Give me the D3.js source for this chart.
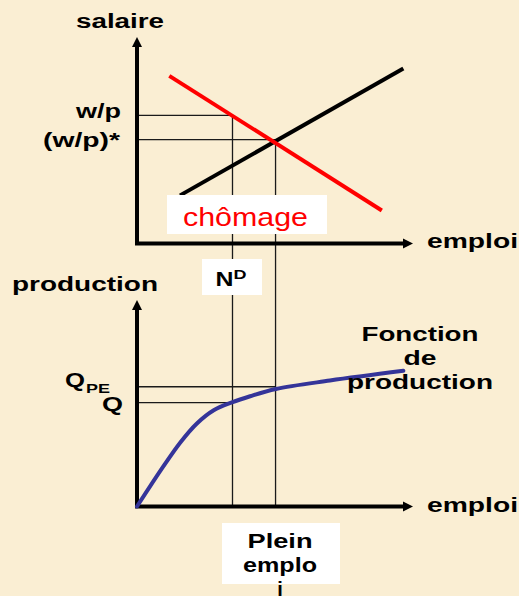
<!DOCTYPE html>
<html>
<head>
<meta charset="utf-8">
<script src="https://cdn.jsdelivr.net/npm/d3@7"></script>
<style>
  html, body { margin: 0; padding: 0; background: #faeed3; }
  svg { display: block; }
</style>
</head>
<body>
<script>
// labour market (top panel)
const supplyX = [15.6, 96.5];
const supplyY = [23.3, 84.8];
const demandX = [11.7, 88.7];
const demandY = [81.2, 16.0];
const wageLabels = ['w/p', '(w/p)*'];
const wageLevels = [62, 50.3];

// employment marks shared by both panels
const empLabels = ['ND', 'Plein emploi'];
const empLevels = [34.6, 50.2];

// production function (bottom panel)
const prodX = [0, 9.6, 15.7, 21.7, 27.8, 34.4, 41.0, 50.3, 69.9, 96.5];
const prodY = [0, 19.5, 31.0, 40.2, 46.6, 50.4, 53.4, 56.9, 61.0, 65.7];
const outputLabels = ['QPE', 'Q'];
const outputLevels = [58, 50.3];

const W = 519, H = 596;
const font = '"Liberation Sans", Arial, sans-serif';

const svg = d3.select('body').append('svg')
  .attr('width', W).attr('height', H);

svg.append('rect').attr('width', W).attr('height', H).attr('fill', '#faeed3');

// scales
const x = d3.scaleLinear().domain([0, 100]).range([137, 413]);
const yTop = d3.scaleLinear().domain([0, 100]).range([243.5, 37]);
const yBot = d3.scaleLinear().domain([0, 100]).range([506.5, 300]);

const line = (xs, ys, yScale) => d3.line()
  .x((d, i) => x(xs[i]))
  .y((d, i) => yScale(ys[i]))(xs);

// thin guide lines
const guides = svg.append('g').attr('stroke', '#1a1a1a').attr('stroke-width', 1.3);

wageLevels.forEach((w, i) => {
  guides.append('line')
    .attr('x1', x(0)).attr('x2', x(empLevels[i]))
    .attr('y1', yTop(w)).attr('y2', yTop(w));
  guides.append('line')
    .attr('x1', x(empLevels[i])).attr('x2', x(empLevels[i]))
    .attr('y1', yTop(w)).attr('y2', yBot(0));
});

outputLevels.forEach((q, i) => {
  const e = empLevels[outputLevels.length - 1 - i];
  guides.append('line')
    .attr('x1', x(0)).attr('x2', x(e))
    .attr('y1', yBot(q)).attr('y2', yBot(q));
});

// axes with arrowheads
const drawAxes = (yScale) => {
  const g = svg.append('g');
  const x0 = x(0), y0 = yScale(0);
  const top = yScale.range()[1], right = x.range()[1];
  g.append('path')
    .attr('d', `M${x0},${y0}V${top + 8}M${x0 - 2},${y0}H${right - 8}`)
    .attr('stroke', '#000').attr('stroke-width', 4).attr('fill', 'none');
  g.append('path')
    .attr('d', `M${x0},${top}L${x0 - 5},${top + 10}L${x0 + 5},${top + 10}Z`)
    .attr('fill', '#000');
  g.append('path')
    .attr('d', `M${right},${y0}L${right - 10},${y0 - 5}L${right - 10},${y0 + 5}Z`)
    .attr('fill', '#000');
};
drawAxes(yTop);
drawAxes(yBot);

// curves
svg.append('path')
  .attr('d', line(supplyX, supplyY, yTop))
  .attr('stroke', '#000').attr('stroke-width', 4).attr('fill', 'none');

svg.append('path')
  .attr('d', line(demandX, demandY, yTop))
  .attr('stroke', '#ff0000').attr('stroke-width', 4).attr('fill', 'none');

svg.append('path')
  .attr('d', d3.line()
    .curve(d3.curveCatmullRom.alpha(0.5))
    .x((d, i) => x(prodX[i]))
    .y((d, i) => yBot(prodY[i]))(prodX))
  .attr('stroke', '#343499').attr('stroke-width', 4)
  .attr('fill', 'none').attr('stroke-linecap', 'round');

// white label boxes
const box = (x0, y0, w, h) => svg.append('rect')
  .attr('x', x0).attr('y', y0).attr('width', w).attr('height', h)
  .attr('fill', '#fff');

box(167, 195, 160, 39);
box(202, 259, 60, 36);
box(222, 523, 118, 61);

// text helper: widths are fitted because the slide text is stretched
const label = ({text, tx, ty, size = 20, weight = 'bold', width, anchor = 'start', fill = '#000'}) => {
  const t = svg.append('text')
    .attr('x', tx).attr('y', ty)
    .attr('font-family', font)
    .attr('font-size', size)
    .attr('font-weight', weight)
    .attr('text-anchor', anchor)
    .attr('fill', fill)
    .text(text);
  if (width) t.attr('textLength', width).attr('lengthAdjust', 'spacingAndGlyphs');
  return t;
};

// axis titles
label({text: 'salaire', tx: 76, ty: 28, width: 88});
label({text: 'emploi', tx: 427, ty: yTop(0) + 4, width: 91});
label({text: 'production', tx: 12, ty: 291, width: 146});
label({text: 'emploi', tx: 427, ty: yBot(0) + 5, width: 91});

// wage labels
label({text: wageLabels[0], tx: 121, ty: yTop(wageLevels[0]) + 3, width: 45, anchor: 'end'});
label({text: wageLabels[1], tx: 120, ty: yTop(wageLevels[1]) + 7, width: 77, anchor: 'end'});

// output labels
label({text: 'Q', tx: 65, ty: yBot(outputLevels[0]) + 0.5, width: 20});
label({text: outputLabels[0].slice(1), tx: 86, ty: yBot(outputLevels[0]) + 6, size: 12, width: 24});
label({text: outputLabels[1], tx: 102, ty: yBot(outputLevels[1]) + 8, width: 21});

// employment labels
label({text: 'N', tx: x(empLevels[0]) - 17, ty: 286, width: 18});
label({text: 'D', tx: x(empLevels[0]) + 1, ty: 279, size: 13, width: 13});

const peLines = ['Plein', 'emplo', 'i'];
const peWidths = [65, 74, null];
peLines.forEach((s, i) => {
  label({text: s, tx: 280, ty: 548 + i * 24, width: peWidths[i], anchor: 'middle'});
});

// curve labels
label({text: 'chômage', tx: 183, ty: 226, size: 25, weight: 'normal', width: 125, fill: '#ff0000'});

const fnLines = ['Fonction', 'de', 'production'];
const fnWidths = [117, 33, 146];
fnLines.forEach((s, i) => {
  label({text: s, tx: 420, ty: 341 + i * 24, width: fnWidths[i], anchor: 'middle'});
});
</script>
</body>
</html>
